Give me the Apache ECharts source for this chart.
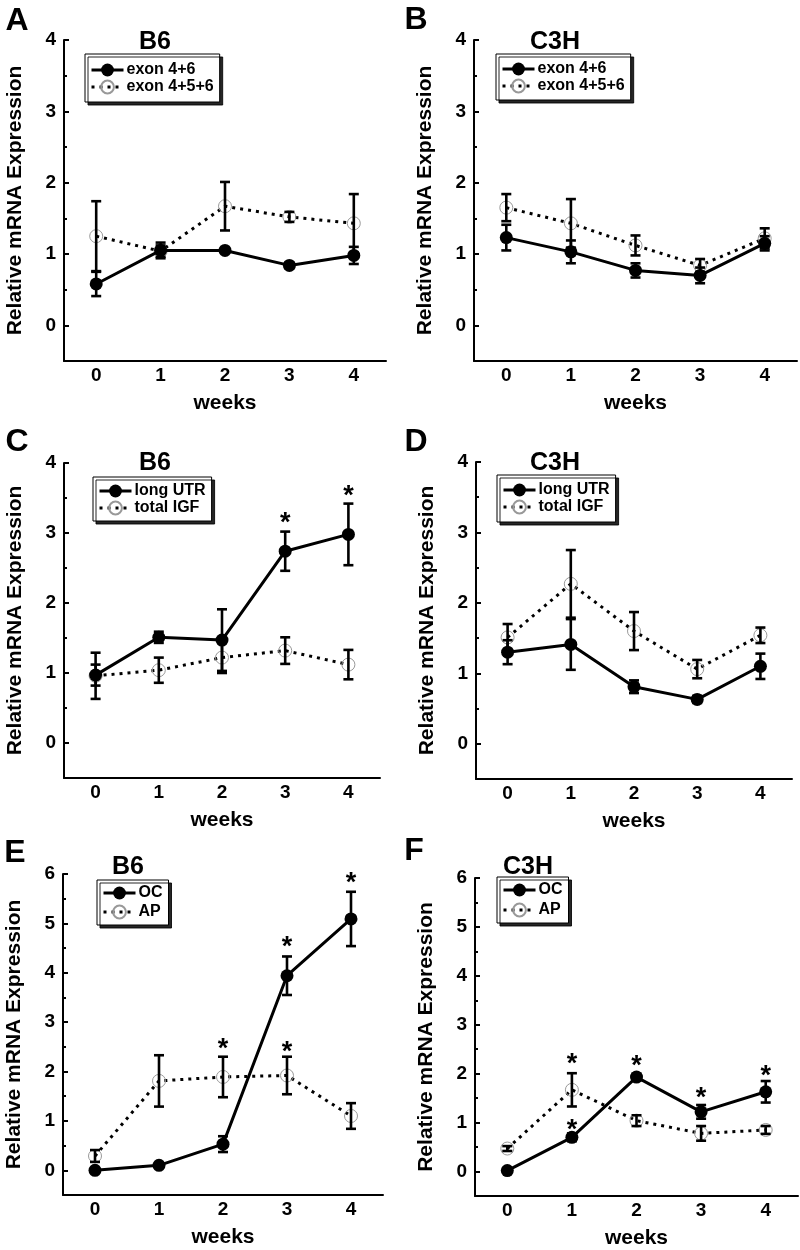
<!DOCTYPE html>
<html><head><meta charset="utf-8">
<script src="https://cdn.jsdelivr.net/npm/echarts@6/dist/echarts.min.js"></script>
<style>html,body{margin:0;padding:0;background:#fff}#c{width:800px;height:1250px}</style>
</head><body><div id="c"></div>
<script>
// ---- data ----
const weeks = ['0','1','2','3','4'];
const yTicks4 = [0,1,2,3,4];
const yMinor4 = [0.5,1.5,2.5,3.5];
const yTicks6 = [0,1,2,3,4,5,6];
const yMinor6 = [0.5,1.5,2.5,3.5,4.5,5.5];

// A: B6, exon
const aExon46 = [0.58,1.05,1.05,0.84,0.98];
const aExon46Err = [0.17,0.11,0.03,0.04,0.12];
const aExon456 = [1.25,1.04,1.67,1.52,1.43];
const aExon456Err = [0.49,0.08,0.34,0.07,0.41];
const aStars = [];
// B: C3H, exon
const bExon46 = [1.23,1.03,0.77,0.70,1.15];
const bExon46Err = [0.18,0.16,0.10,0.11,0.10];
const bExon456 = [1.65,1.43,1.12,0.84,1.22];
const bExon456Err = [0.19,0.34,0.14,0.09,0.14];
const bStars = [];
// C: B6, UTR
const cLongUTR = [0.97,1.51,1.47,2.74,2.98];
const cLongUTRErr = [0.15,0.08,0.44,0.28,0.44];
const cTotalIGF = [0.96,1.04,1.22,1.32,1.12];
const cTotalIGFErr = [0.33,0.18,0.22,0.19,0.21];
const cStars = [[3,3.22],[4,3.61]];
// D: C3H, UTR
const dLongUTR = [1.30,1.41,0.81,0.63,1.10];
const dLongUTRErr = [0.17,0.36,0.09,0.05,0.18];
const dTotalIGF = [1.51,2.27,1.60,1.06,1.54];
const dTotalIGFErr = [0.19,0.48,0.27,0.13,0.11];
const dStars = [];
// E: B6, OC/AP
const eOC = [0.00,0.10,0.53,3.94,5.09];
const eOCErr = [0.00,0.03,0.16,0.39,0.55];
const eAP = [0.29,1.81,1.89,1.92,1.10];
const eAPErr = [0.12,0.52,0.41,0.38,0.26];
const eStars = [[2,2.57],[3,2.50],[3,4.63],[4,5.92]];
// F: C3H, OC/AP
const fOC = [0.02,0.70,1.93,1.22,1.63];
const fOCErr = [0.02,0.08,0.07,0.14,0.22];
const fAP = [0.47,1.67,1.04,0.78,0.85];
const fAPErr = [0.05,0.34,0.11,0.15,0.08];
const fStars = [[1,2.31],[1,0.97],[2,2.27],[3,1.62],[4,2.07]];

// ---- layout ----
const FONT = '"Liberation Sans", Arial, sans-serif';
const panels = [
  {letter:'A', title:'B6',  grid:{left:64,top:40,width:322,height:321}, max:4, ticks:yTicks4, minor:yMinor4,
   names:['exon 4+6','exon 4+5+6'], s:aExon46, se:aExon46Err, d:aExon456, de:aExon456Err, stars:aStars,
   titlePos:[155,42], letterPos:[17,21], legend:[85,54], gap:1, pad:[8,6,7,5]},
  {letter:'B', title:'C3H', grid:{left:474,top:40,width:323,height:321}, max:4, ticks:yTicks4, minor:yMinor4,
   names:['exon 4+6','exon 4+5+6'], s:bExon46, se:bExon46Err, d:bExon456, de:bExon456Err, stars:bStars,
   titlePos:[555,42], letterPos:[416,20], legend:[496,54], gap:1, pad:[7,6,6,5]},
  {letter:'C', title:'B6',  grid:{left:64,top:463,width:316,height:315}, max:4, ticks:yTicks4, minor:yMinor4,
   names:['long UTR','total IGF'], s:cLongUTR, se:cLongUTRErr, d:cTotalIGF, de:cTotalIGFErr, stars:cStars,
   titlePos:[155,463], letterPos:[17,442], legend:[93,477], gap:1, pad:[6,6,5,5]},
  {letter:'D', title:'C3H', grid:{left:476,top:462,width:316,height:317}, max:4, ticks:yTicks4, minor:yMinor4,
   names:['long UTR','total IGF'], s:dLongUTR, se:dLongUTRErr, d:dTotalIGF, de:dTotalIGFErr, stars:dStars,
   titlePos:[555,463], letterPos:[416,442], legend:[497,475], gap:1, pad:[7,6,7,5]},
  {letter:'E', title:'B6',  grid:{left:63,top:874,width:320,height:321}, max:6, ticks:yTicks6, minor:yMinor6,
   names:['OC','AP'], s:eOC, se:eOCErr, d:eAP, de:eAPErr, stars:eStars,
   titlePos:[128,867], letterPos:[15,853], legend:[97,880], gap:3, pad:[5,6,5,5]},
  {letter:'F', title:'C3H', grid:{left:475,top:878,width:323,height:318}, max:6, ticks:yTicks6, minor:yMinor6,
   names:['OC','AP'], s:fOC, se:fOCErr, d:fAP, de:fAPErr, stars:fStars,
   titlePos:[528,867], letterPos:[414,851], legend:[497,877], gap:4, pad:[5,6,5,5]}
];

function errRender(params, api) {
  const x = api.value(0), y = api.value(1), e = api.value(2);
  if (!e) return null;
  const t = api.coord([x, y + e]), b = api.coord([x, y - e]);
  const hw = 5, st = {stroke:'#000', lineWidth:2.6};
  return {type:'group', children:[
    {type:'line', shape:{x1:t[0], y1:t[1], x2:b[0], y2:b[1]}, style:st},
    {type:'line', shape:{x1:t[0]-hw, y1:t[1], x2:t[0]+hw, y2:t[1]}, style:st},
    {type:'line', shape:{x1:b[0]-hw, y1:b[1], x2:b[0]+hw, y2:b[1]}, style:st}
  ]};
}
function starRender(params, api) {
  const p = api.coord([api.value(0), api.value(1)]);
  return {type:'text', x:p[0], y:p[1] + 6, style:{text:'*', font:'bold 27px ' + FONT,
    textAlign:'center', textVerticalAlign:'middle', fill:'#000'}};
}

const grid = [], xAxis = [], yAxis = [], series = [], legend = [], graphic = [];
panels.forEach((p, i) => {
  grid.push(Object.assign({containLabel:false}, p.grid));
  xAxis.push({type:'category', gridIndex:i, data:weeks, boundaryGap:true,
    name:'weeks', nameLocation:'middle', nameGap:32,
    nameTextStyle:{fontFamily:FONT, fontWeight:'bold', fontSize:21, color:'#000'},
    axisLine:{onZero:false, lineStyle:{color:'#000', width:2}},
    axisTick:{alignWithLabel:true, inside:true, length:5, lineStyle:{color:'#000', width:2}},
    axisLabel:{fontFamily:FONT, fontWeight:'bold', fontSize:19, color:'#000', margin:5},
    splitLine:{show:false}});
  yAxis.push({type:'value', gridIndex:i, min:-0.5, max:p.max,
    name:'Relative mRNA Expression', nameLocation:'middle', nameGap:38,
    nameTextStyle:{fontFamily:FONT, fontWeight:'bold', fontSize:21, color:'#000'},
    axisLine:{show:true, onZero:false, lineStyle:{color:'#000', width:2}},
    axisTick:{show:true, inside:true, length:5, customValues:p.ticks, lineStyle:{color:'#000', width:2}},
    axisLabel:{fontFamily:FONT, fontWeight:'bold', fontSize:19, color:'#000', margin:8, customValues:p.ticks},
    splitLine:{show:false}});
  yAxis.push({type:'value', gridIndex:i, min:-0.5, max:p.max, position:'left', offset:0,
    axisLine:{show:false, onZero:false}, axisLabel:{show:false}, splitLine:{show:false},
    axisTick:{show:true, inside:true, length:3, customValues:p.minor, lineStyle:{color:'#000', width:2}}});
  const yi = i * 2;
  series.push({type:'line', name:p.names[1], xAxisIndex:i, yAxisIndex:yi, data:p.d, z:2,
    symbol:'circle', symbolSize:13,
    itemStyle:{color:'rgba(255,255,255,0)', borderColor:'#999', borderWidth:1},
    lineStyle:{color:'#000', width:3, type:[3,5]}, emphasis:{disabled:true}});
  series.push({type:'line', name:p.names[0], xAxisIndex:i, yAxisIndex:yi, data:p.s, z:3,
    symbol:'circle', symbolSize:13, itemStyle:{color:'#000'},
    lineStyle:{color:'#000', width:3}, emphasis:{disabled:true}});
  series.push({type:'custom', xAxisIndex:i, yAxisIndex:yi, z:4, renderItem:errRender,
    data:p.d.map((v, k) => [k, v, p.de[k]]), silent:true});
  series.push({type:'custom', xAxisIndex:i, yAxisIndex:yi, z:4, renderItem:errRender,
    data:p.s.map((v, k) => [k, v, p.se[k]]), silent:true});
  if (p.stars.length) series.push({type:'custom', xAxisIndex:i, yAxisIndex:yi, z:5, renderItem:starRender,
    data:p.stars, silent:true});
  legend.push({left:p.legend[0], top:p.legend[1], orient:'vertical', data:[p.names[0], p.names[1]],
    itemWidth:32, itemHeight:16, itemGap:p.gap, padding:p.pad,
    lineStyle:{width:3},
    backgroundColor:'#fff', borderColor:'#000', borderWidth:1, borderRadius:0,
    shadowColor:'rgba(0,0,0,0.85)', shadowBlur:0, shadowOffsetX:3, shadowOffsetY:3,
    selectedMode:false, textStyle:{fontFamily:FONT, fontWeight:'bold', fontSize:16, color:'#000', padding:[0,0,0,-2]}});
  graphic.push({type:'text', x:p.titlePos[0], y:p.titlePos[1], style:{text:p.title, font:'bold 25px ' + FONT,
    textAlign:'center', textVerticalAlign:'middle', fill:'#000'}});
  graphic.push({type:'text', x:p.letterPos[0], y:p.letterPos[1], style:{text:p.letter, font:'bold 32px ' + FONT,
    textAlign:'center', textVerticalAlign:'middle', fill:'#000'}});
});

const chart = echarts.init(document.getElementById('c'), null, {renderer:'canvas'});
chart.setOption({animation:false, backgroundColor:'#fff', grid, xAxis, yAxis, series, legend, graphic});
</script></body></html>
